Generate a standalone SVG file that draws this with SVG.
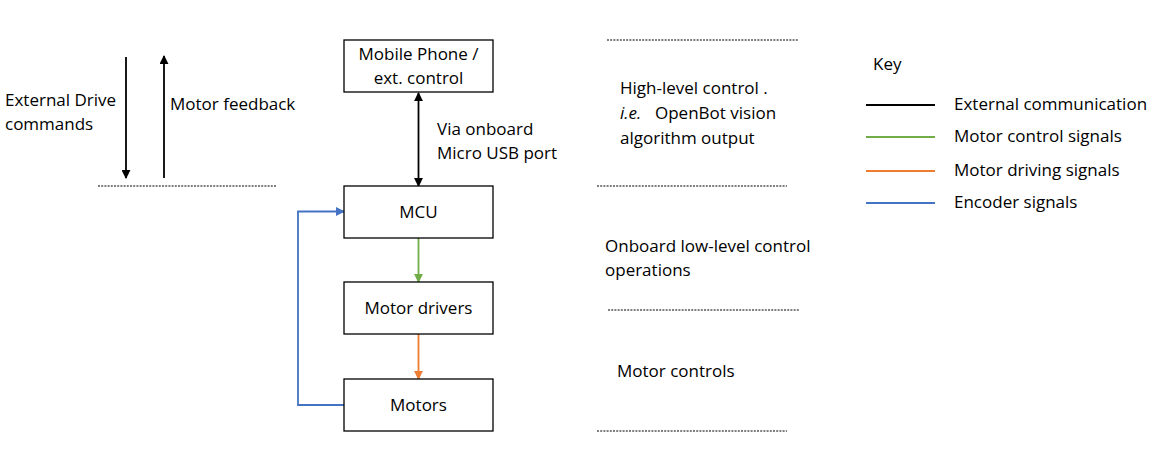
<svg xmlns="http://www.w3.org/2000/svg" width="1161" height="472" viewBox="0 0 1161 472">
<defs>
<style>
text{font-family:"Open Sans","Noto Sans","Liberation Sans",sans-serif;font-size:17px;fill:#000}
.box{fill:#fff;stroke:#000;stroke-width:1.3}
.dot{stroke:#000;stroke-width:1;stroke-dasharray:2 1.2;fill:none}
.c{text-anchor:middle}
</style>
<marker id="ak" viewBox="0 0 10 10" refX="9" refY="5" markerWidth="5" markerHeight="5" orient="auto-start-reverse"><path d="M0,0 L10,5 L0,10 z" fill="#000"/></marker>
<marker id="ag" viewBox="0 0 10 10" refX="9" refY="5" markerWidth="5" markerHeight="5" orient="auto"><path d="M0,0 L10,5 L0,10 z" fill="#70AD47"/></marker>
<marker id="ao" viewBox="0 0 10 10" refX="9" refY="5" markerWidth="5" markerHeight="5" orient="auto"><path d="M0,0 L10,5 L0,10 z" fill="#ED7D31"/></marker>
<marker id="ab" viewBox="0 0 10 10" refX="9" refY="5" markerWidth="5" markerHeight="5" orient="auto"><path d="M0,0 L10,5 L0,10 z" fill="#4472C4"/></marker>
</defs>
<rect width="1161" height="472" fill="#fff"/>
<g id="connectors">
<line x1="126" y1="57" x2="126" y2="178" stroke="#000" stroke-width="1.8" marker-end="url(#ak)"/>
<line x1="164" y1="178" x2="164" y2="56" stroke="#000" stroke-width="1.8" marker-end="url(#ak)"/>
<line x1="418.5" y1="93" x2="418.5" y2="186" stroke="#000" stroke-width="1.8" marker-start="url(#ak)" marker-end="url(#ak)"/>
<line x1="418.5" y1="238" x2="418.5" y2="282" stroke="#70AD47" stroke-width="1.8" marker-end="url(#ag)"/>
<line x1="418.5" y1="334" x2="418.5" y2="379" stroke="#ED7D31" stroke-width="1.8" marker-end="url(#ao)"/>
<polyline points="344,405 298,405 298,211.5 344,211.5" fill="none" stroke="#4472C4" stroke-width="1.8" marker-end="url(#ab)"/>
</g>
<g id="node-mobile"><rect class="box" x="344" y="40" width="149" height="52"/><text class="c" x="418.5" y="60">Mobile Phone /</text><text class="c" x="418.5" y="84">ext. control</text></g>
<g id="node-mcu"><rect class="box" x="344" y="186" width="149" height="52"/><text class="c" x="418.5" y="218">MCU</text></g>
<g id="node-drivers"><rect class="box" x="344" y="282" width="149" height="52"/><text class="c" x="418.5" y="314">Motor drivers</text></g>
<g id="node-motors"><rect class="box" x="344" y="379" width="149" height="52"/><text class="c" x="418.5" y="411">Motors</text></g>
<g id="labels">
<text x="5" y="106">External Drive</text>
<text x="5" y="130">commands</text>
<text x="170" y="110">Motor feedback</text>
<text x="437" y="135">Via onboard</text>
<text x="437" y="159">Micro USB port</text>
<text x="620" y="94">High-level control .</text>
<text x="620" y="119"><tspan font-style="italic">i.e.</tspan><tspan x="655">OpenBot vision</tspan></text>
<text x="620" y="144">algorithm output</text>
<text x="605" y="252">Onboard low-level control</text>
<text x="605" y="276">operations</text>
<text x="617" y="377">Motor controls</text>
</g>
<g id="dividers">
<line class="dot" x1="98" y1="186" x2="277" y2="186"/>
<line class="dot" x1="607" y1="40" x2="799" y2="40"/>
<line class="dot" x1="597" y1="186" x2="787" y2="186"/>
<line class="dot" x1="608" y1="310" x2="799" y2="310"/>
<line class="dot" x1="597" y1="431" x2="787" y2="431"/>
</g>
<g id="key">
<text x="873" y="70">Key</text>
<line x1="866" y1="105" x2="935" y2="105" stroke="#000" stroke-width="2"/>
<line x1="866" y1="137" x2="935" y2="137" stroke="#70AD47" stroke-width="2"/>
<line x1="866" y1="171" x2="935" y2="171" stroke="#ED7D31" stroke-width="2"/>
<line x1="866" y1="203" x2="935" y2="203" stroke="#4472C4" stroke-width="2"/>
<text x="954" y="110">External communication</text>
<text x="954" y="142">Motor control signals</text>
<text x="954" y="176">Motor driving signals</text>
<text x="954" y="208">Encoder signals</text>
</g>
</svg>
